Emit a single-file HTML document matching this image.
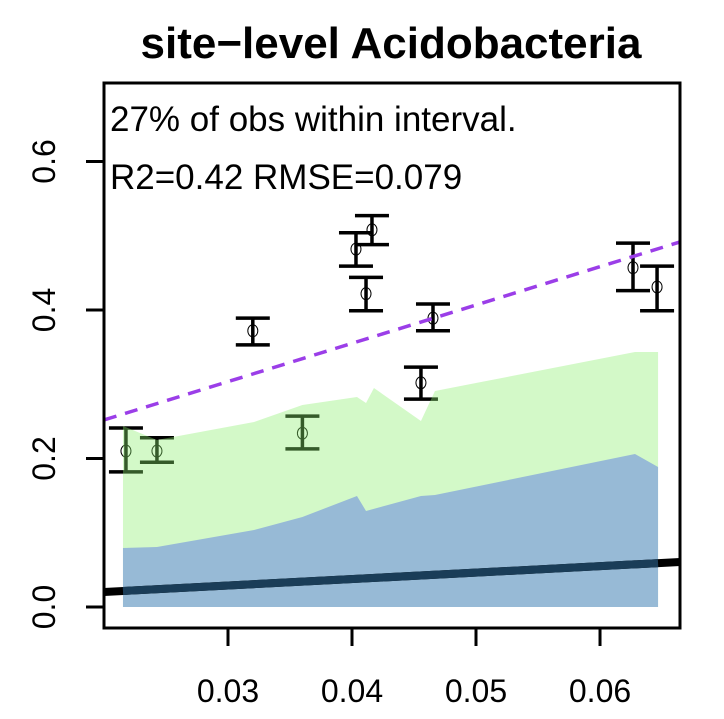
<!DOCTYPE html>
<html><head><meta charset="utf-8"><style>
body{margin:0;background:#fff;width:724px;height:714px;overflow:hidden}
svg text{font-family:"Liberation Sans",sans-serif}
</style></head><body>
<svg id="chart" width="724" height="714" viewBox="0 0 724 714">
<text x="391" y="58" text-anchor="middle" font-size="44" font-weight="bold">site−level Acidobacteria</text>
<g id="points"></g><g id="bands"></g><g id="lines"></g>
<rect x="104" y="83" width="576" height="545" fill="none" stroke="#000" stroke-width="3"/>
<g id="axes"></g>
<text x="110" y="131" font-size="35">27% of obs within interval.</text>
<text x="110" y="189" font-size="35">R2=0.42 RMSE=0.079</text>
</svg>
<script>
const obsX=[0.02177,0.02427,0.0320,0.0360,0.04032,0.04161,0.04113,0.04556,0.04653,0.06266,0.0646];
const obsY=[0.210,0.210,0.372,0.234,0.482,0.508,0.422,0.302,0.389,0.457,0.431];
const obsLo=[0.182,0.195,0.353,0.213,0.459,0.488,0.399,0.280,0.372,0.426,0.399];
const obsHi=[0.241,0.228,0.389,0.257,0.504,0.527,0.444,0.323,0.408,0.490,0.459];
const greenX=[0.02153,0.02427,0.0321,0.0360,0.0404,0.04113,0.04177,0.04556,0.04669,0.06282,0.06468];
const greenHi=[0.2438,0.2249,0.2492,0.2721,0.2828,0.2747,0.2949,0.2505,0.2909,0.3434,0.3434];
const blueX=[0.02153,0.02427,0.0321,0.0360,0.0404,0.04113,0.04556,0.04669,0.06282,0.06468];
const blueHi=[0.0795,0.0808,0.1037,0.1212,0.1495,0.1293,0.1495,0.1508,0.2061,0.1886];
const fitLine=[0.0202,0.0606];
const oneToOne=[0.2519,0.4916];
const xTicks=[0.03,0.04,0.05,0.06];
const yTicks=[0.0,0.2,0.4,0.6];
const X0=0.02,X1=0.06645,Y0=-0.0283,Y1=0.7057;
const sx=v=>104+(v-X0)/(X1-X0)*576;
const sy=v=>628-(v-Y0)/(Y1-Y0)*545;
const NS="http://www.w3.org/2000/svg";
function mk(t,p,a){const e=document.createElementNS(NS,t);for(const k in a)e.setAttribute(k,a[k]);p.appendChild(e);return e;}
const bands=document.getElementById('bands'),lines=document.getElementById('lines'),pts=document.getElementById('points'),axes=document.getElementById('axes');
for(let i=0;i<obsX.length;i++){
 const g=mk('g',pts,{});
 
 
 const x=sx(obsX[i]);
 mk('line',g,{x1:x,x2:x,y1:sy(obsLo[i]),y2:sy(obsHi[i]),stroke:'#000','stroke-width':3.5});
 mk('line',g,{x1:x-17,x2:x+17,y1:sy(obsLo[i]),y2:sy(obsLo[i]),stroke:'#000','stroke-width':3.5});
 mk('line',g,{x1:x-17,x2:x+17,y1:sy(obsHi[i]),y2:sy(obsHi[i]),stroke:'#000','stroke-width':3.5});
 mk('ellipse',g,{cx:x,cy:sy(obsY[i]),rx:5,ry:6,fill:'none',stroke:'#000','stroke-width':1});
}
function band(xs,hi,fill,name){
 let d='M'+sx(xs[0])+','+sy(0);
 xs.forEach((x,i)=>d+=' L'+sx(x)+','+sy(hi[i]));
 d+=' L'+sx(xs[xs.length-1])+','+sy(0)+' Z';
 const p=mk('path',bands,{d:d,fill:fill});
 
 
}
band(greenX,greenHi,'rgba(140,240,110,0.38)','interval-95-band');
band(blueX,blueHi,'#97bad6','interval-50-band');
const fy=x=>fitLine[0]+(fitLine[1]-fitLine[0])*(x-X0)/(X1-X0);
const fl=mk('line',lines,{x1:sx(X0),x2:sx(X1),y1:sy(fitLine[0]),y2:sy(fitLine[1]),stroke:'#000','stroke-width':8});


const gx0=greenX[0],gx1=greenX[greenX.length-1];
const fl2=mk('line',lines,{x1:sx(gx0),x2:sx(gx1),y1:sy(fy(gx0)),y2:sy(fy(gx1)),stroke:'#1a3d58','stroke-width':8});


const dl=mk('line',lines,{x1:sx(X0),x2:sx(X1),y1:sy(oneToOne[0]),y2:sy(oneToOne[1]),stroke:'#9b3ee8','stroke-width':3.5,'stroke-dasharray':'13,9'});


xTicks.forEach(t=>{
 const x=sx(t);
 const l=mk('line',axes,{x1:x,x2:x,y1:628,y2:646,stroke:'#000','stroke-width':3});
 
 
 const tx=mk('text',axes,{x:x,y:702,'text-anchor':'middle','font-size':32});
 tx.textContent=t.toFixed(2);
 
 
});
yTicks.forEach(t=>{
 const y=sy(t);
 const l=mk('line',axes,{x1:86,x2:104,y1:y,y2:y,stroke:'#000','stroke-width':3});
 
 
 const tx=mk('text',axes,{x:55,y:y,'text-anchor':'middle','font-size':32,transform:'rotate(-90 55 '+y+')'});
 tx.textContent=t.toFixed(1);
 
 
});
</script>
</body></html>
